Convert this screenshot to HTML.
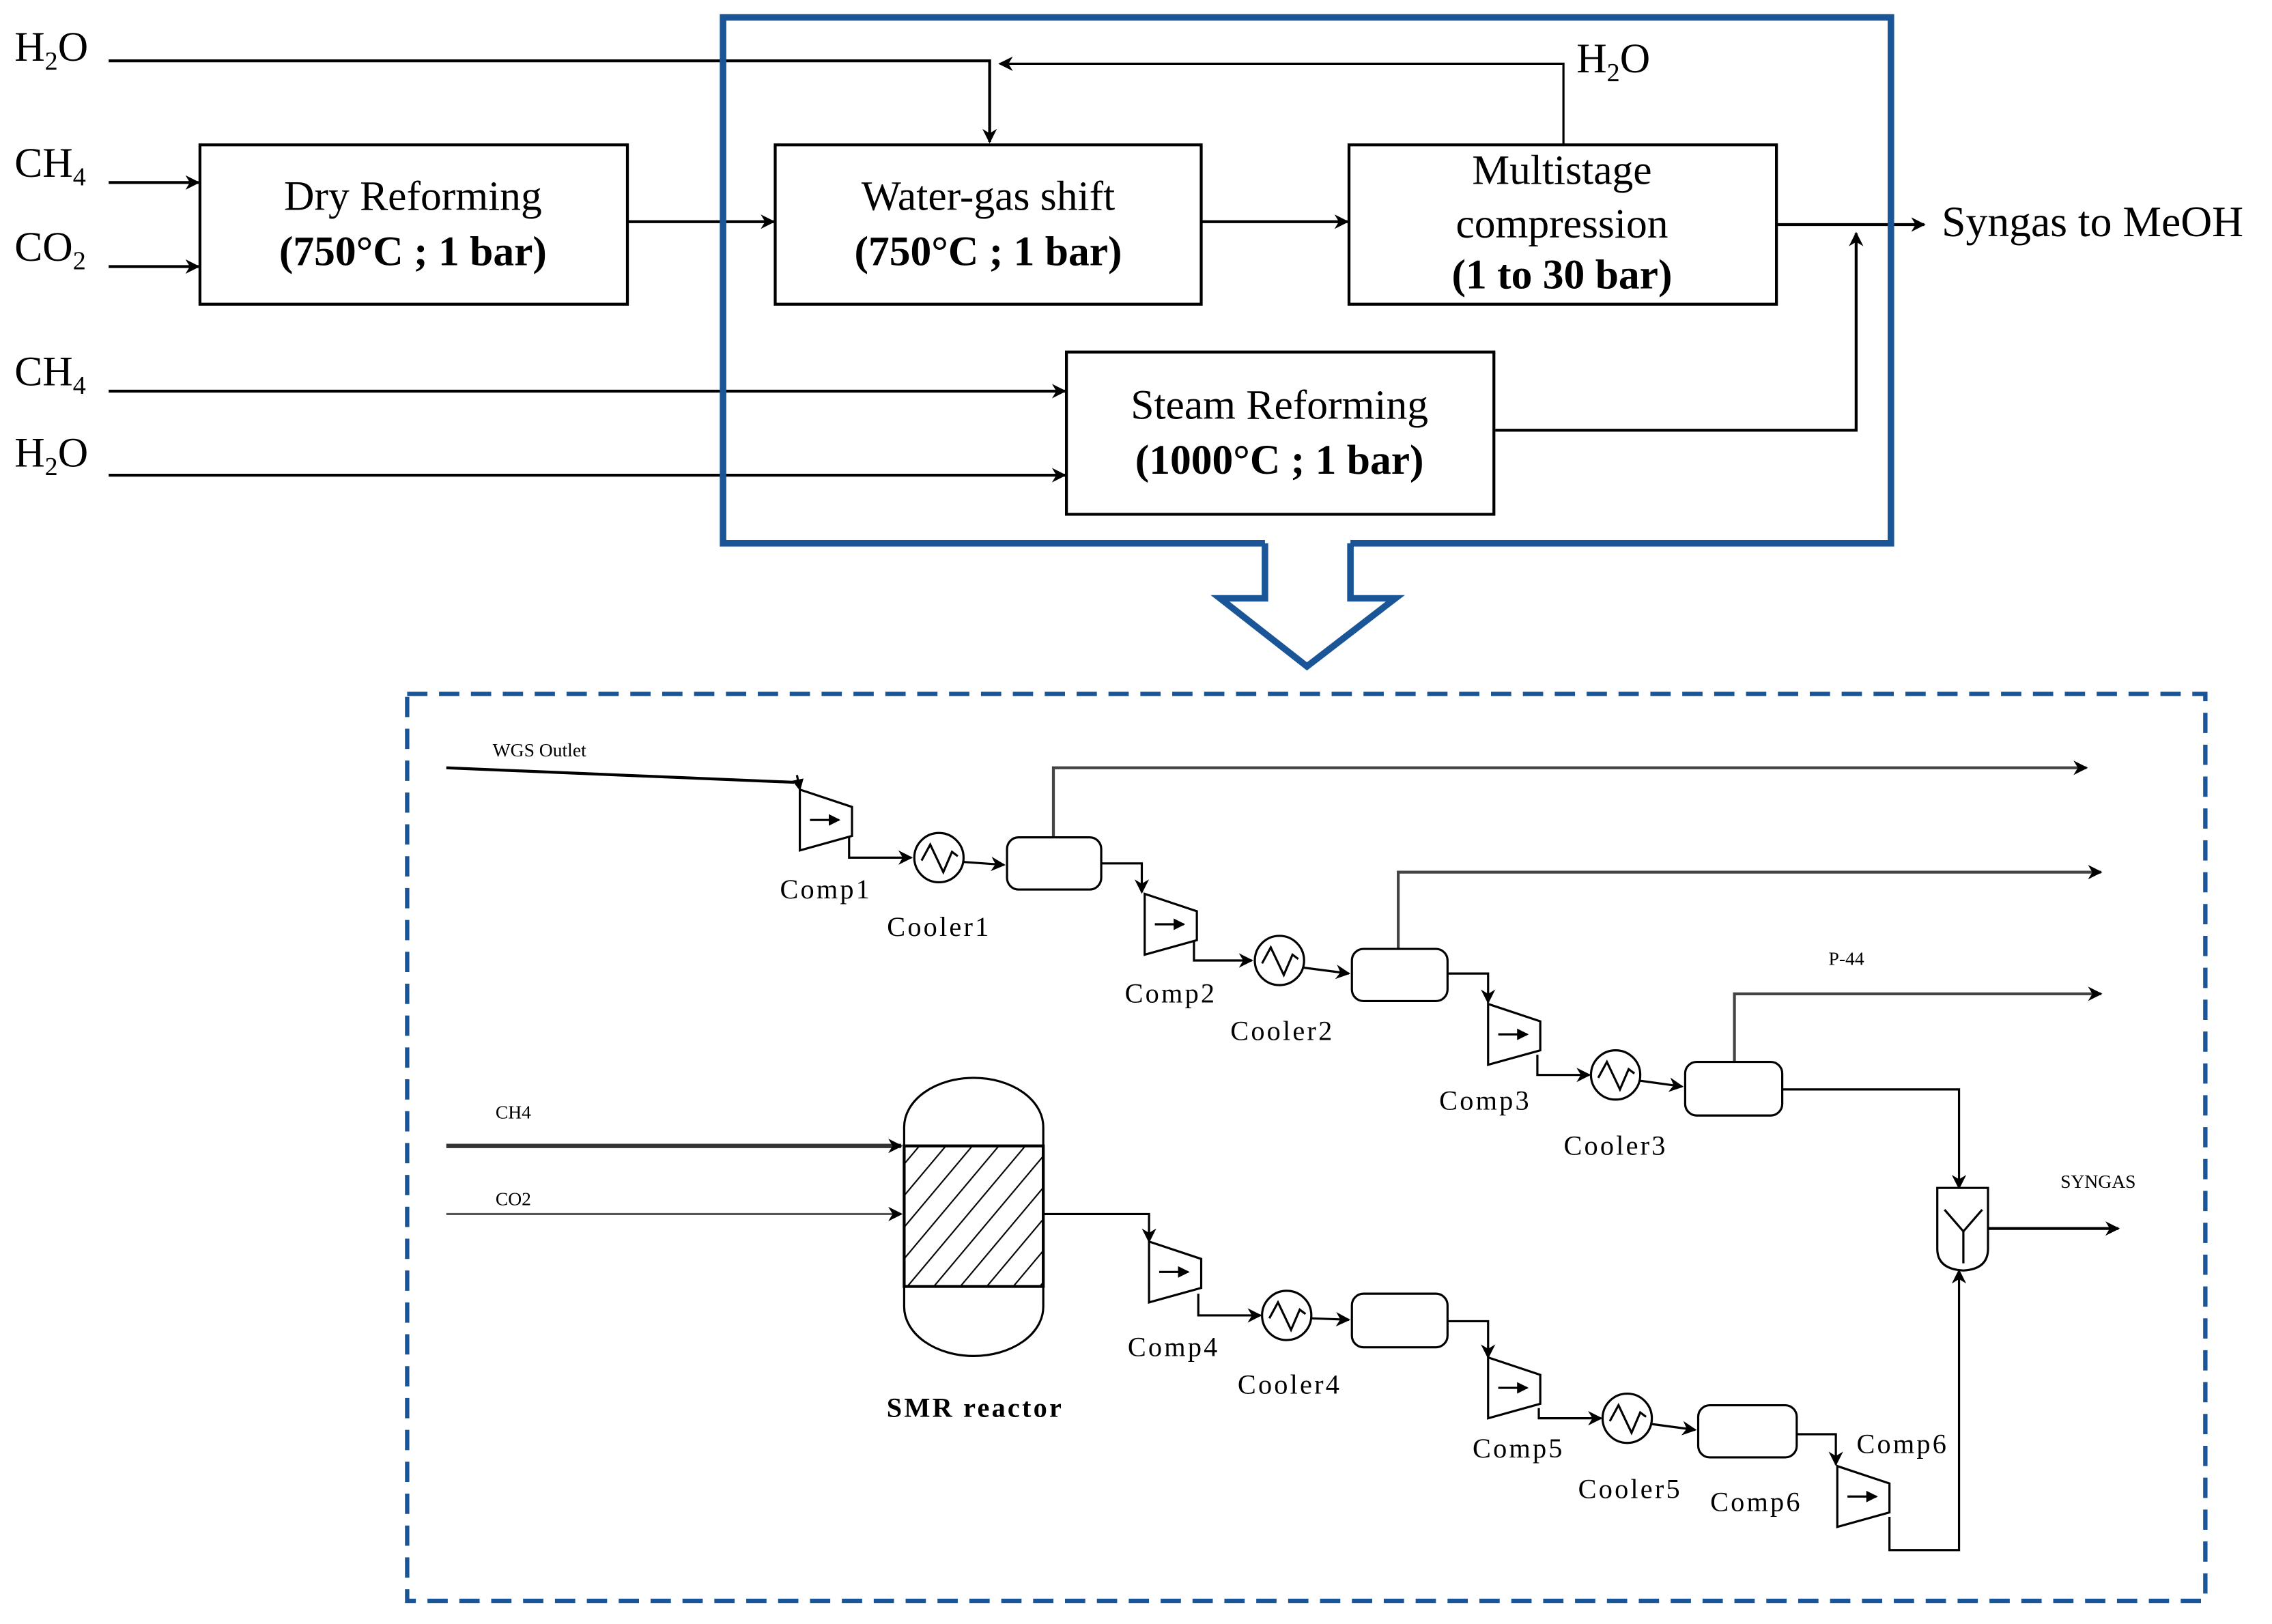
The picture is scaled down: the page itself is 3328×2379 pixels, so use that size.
<!DOCTYPE html>
<html><head><meta charset="utf-8"><style>
html,body{margin:0;padding:0;background:#fff;}
svg{display:block;}
text{font-family:"Liberation Serif",serif;fill:#000;}
</style></head><body>
<svg width="3328" height="2379" viewBox="0 0 1568 1121" preserveAspectRatio="none" xmlns="http://www.w3.org/2000/svg">
<defs>
<marker id="a" markerWidth="10" markerHeight="10" refX="9" refY="5" orient="auto" markerUnits="userSpaceOnUse"><path d="M0,0 L10,5 L0,10 L3,5 Z" fill="#000"/></marker>
<marker id="s" markerWidth="8" markerHeight="8" refX="7" refY="4" orient="auto" markerUnits="userSpaceOnUse"><path d="M0,0 L8,4 L0,8 Z" fill="#000"/></marker>
<pattern id="h" width="14" height="14" patternUnits="userSpaceOnUse" patternTransform="rotate(40)"><line x1="0" y1="0" x2="0" y2="14" stroke="#000" stroke-width="2"/></pattern>
<g id="comp"><polygon points="0,0 36,12 36,32 0,42" fill="#fff" stroke="#000" stroke-width="1.5"/><line x1="7" y1="21" x2="27" y2="21" stroke="#000" stroke-width="1.5" marker-end="url(#s)"/></g>
<g id="cool"><circle cx="0" cy="0" r="17" fill="#fff" stroke="#000" stroke-width="1.5"/><path d="M-12,2 L-6,-9 L3,10 L9,-4 L13,-1" fill="none" stroke="#000" stroke-width="1.5"/></g>
</defs>

<!-- TOP -->
<g fill="none" stroke="#000">
<rect x="138" y="100" width="295" height="110" stroke-width="2"/>
<rect x="535" y="100" width="294" height="110" stroke-width="2"/>
<rect x="931" y="100" width="295" height="110" stroke-width="2"/>
<rect x="736" y="243" width="295" height="112" stroke-width="2"/>
<polyline points="75,42 683,42 683,98" stroke-width="2" marker-end="url(#a)"/>
<polyline points="1079,100 1079,44 690,44" stroke-width="1.5" marker-end="url(#a)"/>
<line x1="75" y1="126" x2="137" y2="126" stroke-width="2" marker-end="url(#a)"/>
<line x1="75" y1="184" x2="137" y2="184" stroke-width="2" marker-end="url(#a)"/>
<line x1="433" y1="153" x2="534" y2="153" stroke-width="2" marker-end="url(#a)"/>
<line x1="829" y1="153" x2="930" y2="153" stroke-width="2" marker-end="url(#a)"/>
<line x1="1226" y1="155" x2="1328" y2="155" stroke-width="2" marker-end="url(#a)"/>
<polyline points="1032,297 1281,297 1281,161" stroke-width="2" marker-end="url(#a)"/>
<line x1="75" y1="270" x2="735" y2="270" stroke-width="2" marker-end="url(#a)"/>
<line x1="75" y1="328" x2="735" y2="328" stroke-width="2" marker-end="url(#a)"/>
</g>
<path d="M873,375 L499,375 L499,12 L1305,12 L1305,375 L932,375 M873,375 L873,413 L842,413 L902,460 L963,413 L932,413 L932,375" fill="none" stroke="#1a5697" stroke-width="4.5"/>

<g font-size="29">
<text x="10" y="42">H<tspan font-size="18" dy="6">2</tspan><tspan dy="-6">O</tspan></text>
<text x="10" y="122">CH<tspan font-size="18" dy="6">4</tspan></text>
<text x="10" y="180">CO<tspan font-size="18" dy="6">2</tspan></text>
<text x="10" y="266">CH<tspan font-size="18" dy="6">4</tspan></text>
<text x="10" y="322">H<tspan font-size="18" dy="6">2</tspan><tspan dy="-6">O</tspan></text>
<text x="1088" y="50">H<tspan font-size="18" dy="6">2</tspan><tspan dy="-6">O</tspan></text>
<text x="1340" y="163" font-size="30">Syngas to MeOH</text>
<g text-anchor="middle">
<text x="285" y="145">Dry Reforming</text>
<text x="285" y="183" font-weight="bold">(750°C ; 1 bar)</text>
<text x="682" y="145">Water-gas shift</text>
<text x="682" y="183" font-weight="bold">(750°C ; 1 bar)</text>
<text x="1078" y="127">Multistage</text>
<text x="1078" y="164">compression</text>
<text x="1078" y="199" font-weight="bold">(1 to 30 bar)</text>
<text x="883" y="289">Steam Reforming</text>
<text x="883" y="327" font-weight="bold">(1000°C ; 1 bar)</text>
</g>
</g>

<!-- BOTTOM -->
<rect x="281" y="479" width="1241" height="626" fill="none" stroke="#1a5697" stroke-width="3" stroke-dasharray="14,8"/>

<g fill="none" stroke="#000" stroke-width="1.5">
<polyline points="308,530 548,540" stroke-width="2"/>
<line x1="550" y1="535" x2="552" y2="545" marker-end="url(#s)"/>
<polyline points="586,575 586,592 629,592" marker-end="url(#a)"/>
<line x1="665" y1="595" x2="693" y2="597" marker-end="url(#a)"/>
<polyline points="727,578 727,530 1440,530" stroke="#444" stroke-width="2" marker-end="url(#a)"/>
<polyline points="760,596 788,596 788,616" marker-end="url(#a)"/>
<polyline points="824,650 824,663 864,663" marker-end="url(#a)"/>
<line x1="900" y1="668" x2="931" y2="672" marker-end="url(#a)"/>
<polyline points="965,655 965,602 1450,602" stroke="#444" stroke-width="2" marker-end="url(#a)"/>
<polyline points="999,672 1027,672 1027,692" marker-end="url(#a)"/>
<polyline points="1061,728 1061,742 1097,742" marker-end="url(#a)"/>
<line x1="1132" y1="746" x2="1161" y2="750" marker-end="url(#a)"/>
<polyline points="1197,733 1197,686 1450,686" stroke="#444" stroke-width="2" marker-end="url(#a)"/>
<polyline points="1230,752 1352,752 1352,820" marker-end="url(#a)"/>
<line x1="1372" y1="848" x2="1462" y2="848" stroke-width="2" marker-end="url(#a)"/>
<line x1="308" y1="791" x2="622" y2="791" stroke="#333" stroke-width="3" marker-end="url(#a)"/>
<line x1="308" y1="838" x2="622" y2="838" stroke="#555" stroke-width="1.5" marker-end="url(#a)"/>
<polyline points="720,838 793,838 793,857" marker-end="url(#a)"/>
<polyline points="827,893 827,908 870,908" marker-end="url(#a)"/>
<line x1="905" y1="910" x2="931" y2="911" marker-end="url(#a)"/>
<polyline points="999,912 1027,912 1027,937" marker-end="url(#a)"/>
<polyline points="1062,972 1062,979 1105,979" marker-end="url(#a)"/>
<line x1="1140" y1="983" x2="1170" y2="987" marker-end="url(#a)"/>
<polyline points="1240,990 1267,990 1267,1011" marker-end="url(#a)"/>
<polyline points="1304,1047 1304,1070 1352,1070 1352,877" marker-end="url(#a)"/>
<rect x="695" y="578" width="65" height="36" rx="8" fill="#fff"/>
<rect x="933" y="655" width="66" height="36" rx="8" fill="#fff"/>
<rect x="1163" y="733" width="67" height="37" rx="8" fill="#fff"/>
<rect x="933" y="893" width="66" height="37" rx="8" fill="#fff"/>
<rect x="1172" y="970" width="68" height="36" rx="8" fill="#fff"/>
<path d="M1337,820 L1372,820 L1372,862 Q1372,876 1355,877 Q1337,876 1337,862 Z" fill="#fff"/>
<path d="M1342,835 L1355,850 L1368,835 M1355,850 L1355,872"/>
<path d="M624,790 V778 A48,34 0 0 1 720,778 V902 A48,34 0 0 1 624,902 Z" fill="#fff"/>
<rect x="624" y="791" width="96" height="97" fill="url(#h)" stroke="#000" stroke-width="2"/>
</g>
<use href="#comp" x="552" y="545"/>
<use href="#comp" x="790" y="617"/>
<use href="#comp" x="1027" y="693"/>
<use href="#comp" x="793" y="857"/>
<use href="#comp" x="1027" y="937"/>
<use href="#comp" x="1268" y="1012"/>
<use href="#cool" x="648" y="592"/>
<use href="#cool" x="883" y="663"/>
<use href="#cool" x="1115" y="742"/>
<use href="#cool" x="888" y="908"/>
<use href="#cool" x="1123" y="979"/>

<g font-size="19" text-anchor="middle" letter-spacing="1.5">
<text x="570" y="620">Comp1</text>
<text x="648" y="646">Cooler1</text>
<text x="808" y="692">Comp2</text>
<text x="885" y="718">Cooler2</text>
<text x="1025" y="766">Comp3</text>
<text x="1115" y="797">Cooler3</text>
<text x="810" y="936">Comp4</text>
<text x="890" y="962">Cooler4</text>
<text x="1048" y="1006">Comp5</text>
<text x="1125" y="1034">Cooler5</text>
<text x="1212" y="1043">Comp6</text>
<text x="1313" y="1003">Comp6</text>
<text x="673" y="978" font-weight="bold">SMR reactor</text>
</g>
<g font-size="13">
<text x="340" y="522">WGS Outlet</text>
<text x="342" y="772">CH4</text>
<text x="342" y="832">CO2</text>
<text x="1262" y="666">P-44</text>
<text x="1422" y="820">SYNGAS</text>
</g>
</svg>
</body></html>
